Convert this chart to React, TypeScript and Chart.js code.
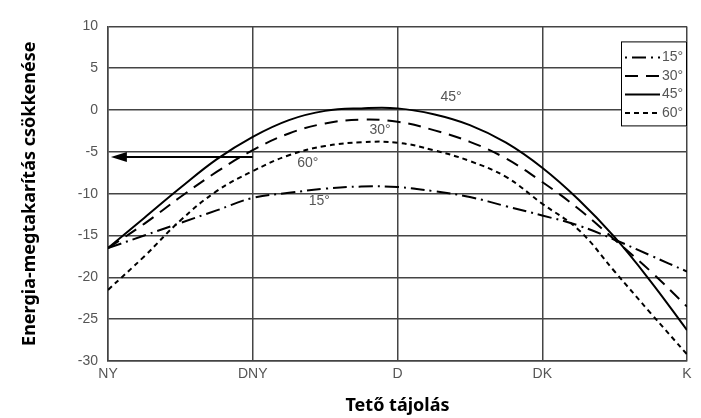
import React, { useEffect, useRef } from "react";
import { Chart, registerables } from "chart.js";

Chart.register(...registerables);

// Category names of the x axis (roof orientation)
const orientations = ["NY", "DNY", "D", "DK", "K"];
// x positions (0 = NY ... 4 = K) at which values were read
const xPositions = [0, 0.25, 0.5, 0.75, 1, 1.25, 1.5, 1.75, 2, 2.25, 2.5, 2.75, 3, 3.25, 3.5, 3.75, 4];

const tilt15 = [-16.5, -15.0, -13.5, -12.0, -10.5, -9.9, -9.4, -9.15, -9.2, -9.7, -10.4, -11.5, -12.6, -13.8, -15.5, -17.4, -19.3];
const tilt30 = [-16.5, -13.6, -10.4, -7.4, -4.8, -2.8, -1.6, -1.15, -1.4, -2.4, -3.8, -5.8, -8.6, -11.8, -15.5, -19.3, -23.5];
const tilt45 = [-16.5, -12.9, -9.3, -5.9, -3.2, -1.2, -0.1, 0.2, 0.2, -0.5, -1.8, -3.9, -6.9, -10.7, -15.2, -20.5, -26.3];
const tilt60 = [-21.5, -17.5, -13.2, -9.7, -7.3, -5.4, -4.3, -3.85, -3.9, -4.8, -6.1, -8.0, -11.2, -14.3, -19.3, -24.3, -29.2];

const seriesLabels = ["15°", "30°", "45°", "60°"];
const seriesDashes = [[14, 5, 2, 5], [13, 8], [], [5, 4]];

// In-plot curve labels (data coordinates), same order as seriesLabels
const curveLabelX = [1.46, 1.88, 2.37, 1.38];
const curveLabelY = [-10.9, -2.4, 1.5, -6.3];

// Arrow (data coordinates)
const arrowFromX = 1.0;
const arrowToX = 0.02;
const arrowY = -5.6;

const yMin = -30;
const yMax = 10;
const yStep = 5;

const yTitle = "Energia-megtakarítás csökkenése";
const xTitle = "Tető tájolás";

const tickFont = "'Liberation Sans', Arial, sans-serif";
const titleFont = "'Noto Sans', sans-serif";

const annotationPlugin = {
  id: "annotations",
  afterDatasetsDraw(chart: any) {
    const { ctx, chartArea, scales } = chart;
    const xs = scales.x;
    const ys = scales.y;
    ctx.save();

    // curve labels
    ctx.fillStyle = "#555";
    ctx.font = `14px ${tickFont}`;
    ctx.textAlign = "center";
    ctx.textBaseline = "middle";
    seriesLabels.forEach((lab, i) => {
      ctx.fillText(lab, xs.getPixelForValue(curveLabelX[i]), ys.getPixelForValue(curveLabelY[i]));
    });

    // arrow
    const ax0 = xs.getPixelForValue(arrowFromX);
    const ax1 = xs.getPixelForValue(arrowToX);
    const ay = ys.getPixelForValue(arrowY);
    ctx.strokeStyle = "#000";
    ctx.fillStyle = "#000";
    ctx.lineWidth = 2;
    ctx.setLineDash([]);
    ctx.beginPath();
    ctx.moveTo(ax0, ay);
    ctx.lineTo(ax1 + 12, ay);
    ctx.stroke();
    ctx.beginPath();
    ctx.moveTo(ax1, ay);
    ctx.lineTo(ax1 + 16, ay - 5);
    ctx.lineTo(ax1 + 16, ay + 5);
    ctx.closePath();
    ctx.fill();

    // legend box
    const boxW = 66;
    const boxH = 85;
    const x0 = chartArea.right - boxW;
    const y0 = chartArea.top + 15;
    ctx.fillStyle = "#fff";
    ctx.fillRect(x0, y0, boxW, boxH);
    ctx.strokeStyle = "#000";
    ctx.lineWidth = 1;
    ctx.strokeRect(x0 + 0.5, y0 + 0.5, boxW - 1, boxH - 1);

    chart.data.datasets.forEach((ds: any, i: number) => {
      const y = y0 + 16 + i * 18.5;
      ctx.strokeStyle = "#000";
      ctx.lineWidth = 2;
      ctx.setLineDash(ds.borderDash || []);
      ctx.lineDashOffset = i === 0 ? 19 : 0;
      ctx.beginPath();
      ctx.moveTo(x0 + 4, y);
      ctx.lineTo(x0 + 39, y);
      ctx.stroke();
      ctx.setLineDash([]);
      ctx.lineDashOffset = 0;
      ctx.fillStyle = "#555";
      ctx.font = `14px ${tickFont}`;
      ctx.textAlign = "left";
      ctx.textBaseline = "middle";
      ctx.fillText(ds.label, x0 + 41, y);
    });

    ctx.restore();
  },
};

export default function App() {
  const canvasRef = useRef<HTMLCanvasElement | null>(null);

  useEffect(() => {
    if (!canvasRef.current) return;
    const series = [tilt15, tilt30, tilt45, tilt60];
    const chart = new Chart(canvasRef.current, {
      type: "line",
      data: {
        datasets: series.map((vals, i) => ({
          label: seriesLabels[i],
          data: vals.map((v, j) => ({ x: xPositions[j], y: v })),
          borderColor: "#000",
          borderWidth: 2,
          borderDash: seriesDashes[i],
          pointRadius: 0,
          fill: false,
          tension: 0.4,
        })),
      },
      options: {
        animation: false,
        responsive: true,
        maintainAspectRatio: false,
        layout: { padding: { top: 4, right: 14, left: 0, bottom: 0 } },
        plugins: {
          legend: { display: false },
          tooltip: { enabled: false },
        },
        scales: {
          x: {
            type: "linear",
            min: 0,
            max: orientations.length - 1,
            afterFit: (scale: any) => {
              scale.height = 57;
            },
            ticks: {
              stepSize: 1,
              padding: 5,
              color: "#555",
              font: { size: 14, family: tickFont },
              callback: (v: any) => orientations[Math.round(Number(v))] ?? "",
            },
            grid: { color: "#444", lineWidth: 1.5, drawTicks: false },
            border: { color: "#444", width: 1.5 },
            title: {
              display: true,
              text: xTitle,
              color: "#000",
              font: { size: 18, weight: "bold", family: titleFont },
              padding: { top: 0, bottom: 1 },
            },
          },
          y: {
            min: yMin,
            max: yMax,
            afterFit: (scale: any) => {
              scale.width = 100;
            },
            ticks: {
              stepSize: yStep,
              padding: 10,
              color: "#555",
              font: { size: 14, family: tickFont },
            },
            grid: { color: "#444", lineWidth: 1.5, drawTicks: false },
            border: { color: "#444", width: 1.5 },
            title: {
              display: true,
              text: yTitle,
              color: "#000",
              font: { size: 18, weight: "bold", family: titleFont },
              padding: { top: 11, bottom: 0 },
            },
          },
        },
      },
      plugins: [annotationPlugin],
    });
    return () => chart.destroy();
  }, []);

  return (
    <div style={{ position: "relative", width: 693, height: 410 }}>
      <canvas ref={canvasRef} />
    </div>
  );
}
